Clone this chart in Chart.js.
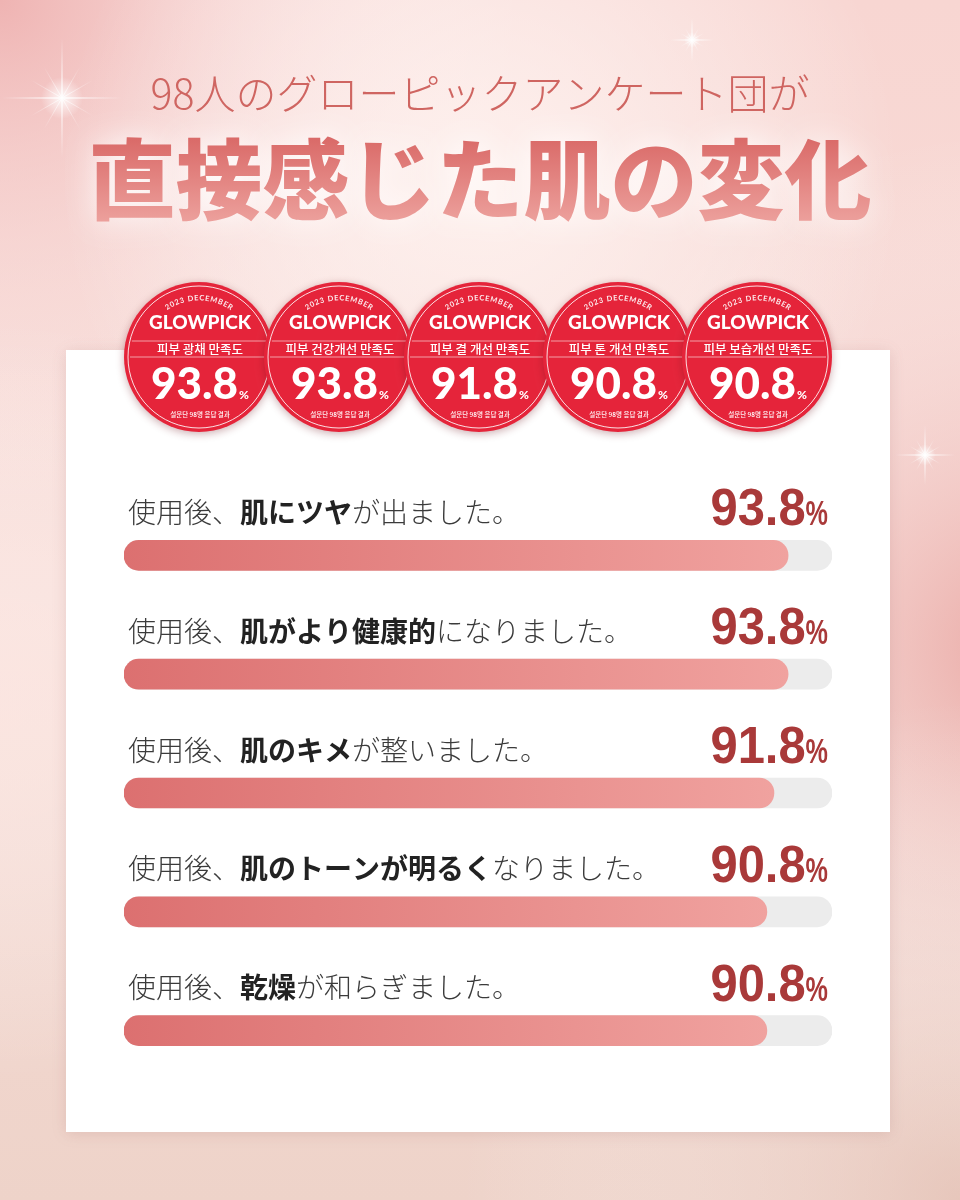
<!DOCTYPE html>
<html>
<head>
<meta charset="utf-8">
<script src="https://cdn.jsdelivr.net/npm/chart.js@4.4.0/dist/chart.umd.min.js"></script>
<style>
  html, body { margin: 0; padding: 0; background: #f6d8d3; }
  canvas { display: block; }
</style>
</head>
<body>
<canvas id="surveyChart" width="960" height="1200"></canvas>
<script>
const subtitle = "98人のグローピックアンケート団が";
const title = "直接感じた肌の変化";

const categories = [
  "使用後、肌にツヤが出ました。",
  "使用後、肌がより健康的になりました。",
  "使用後、肌のキメが整いました。",
  "使用後、肌のトーンが明るくなりました。",
  "使用後、乾燥が和らぎました。"
];
const boldParts = ["肌にツヤ", "肌がより健康的", "肌のキメ", "肌のトーンが明るく", "乾燥"];
const percentValues = [93.8, 93.8, 91.8, 90.8, 90.8];
const trackValues = [100, 100, 100, 100, 100];

const badgeTitles = ["피부 광채 만족도", "피부 건강개선 만족도", "피부 결 개선 만족도", "피부 톤 개선 만족도", "피부 보습개선 만족도"];
const badgeValues = [93.8, 93.8, 91.8, 90.8, 90.8];

const jp = "'Noto Sans CJK JP', 'Noto Sans', sans-serif";
const kr = "'Noto Sans CJK KR', 'Noto Sans', sans-serif";

function drawBackground(ctx, w, h) {
  let g = ctx.createLinearGradient(0, 0, 0, h);
  g.addColorStop(0, "#f8d6d2");
  g.addColorStop(0.5, "#f7dcd7");
  g.addColorStop(1, "#eed3c9");
  ctx.fillStyle = g;
  ctx.fillRect(0, 0, w, h);

  const blobs = [
    [0, 0, 520, "rgba(236,168,168,0.75)"],
    [1020, 650, 520, "rgba(232,160,156,0.85)"],
    [960, 1200, 500, "rgba(226,190,178,0.6)"],
    [0, 700, 380, "rgba(255,236,232,0.6)"],
    [480, 180, 420, "rgba(255,244,241,0.85)"]
  ];
  blobs.forEach(([x, y, r, c]) => {
    const rg = ctx.createRadialGradient(x, y, 0, x, y, r);
    rg.addColorStop(0, c);
    rg.addColorStop(1, "rgba(255,255,255,0)");
    ctx.fillStyle = rg;
    ctx.fillRect(0, 0, w, h);
  });
}

function drawSparkle(ctx, x, y, size) {
  ctx.save();
  const glow = ctx.createRadialGradient(x, y, 0, x, y, size * 0.35);
  glow.addColorStop(0, "rgba(255,255,255,0.9)");
  glow.addColorStop(1, "rgba(255,255,255,0)");
  ctx.fillStyle = glow;
  ctx.beginPath();
  ctx.arc(x, y, size * 0.35, 0, Math.PI * 2);
  ctx.fill();
  const rays = 12;
  for (let i = 0; i < rays; i++) {
    const a = (Math.PI * 2 * i) / rays;
    const len = (i % 3 === 0) ? size : size * 0.6;
    const ex = x + Math.cos(a) * len, ey = y + Math.sin(a) * len;
    const lg = ctx.createLinearGradient(x, y, ex, ey);
    lg.addColorStop(0, "rgba(255,255,255,0.95)");
    lg.addColorStop(1, "rgba(255,255,255,0)");
    ctx.strokeStyle = lg;
    ctx.lineWidth = i % 3 === 0 ? 1.4 : 0.8;
    ctx.beginPath();
    ctx.moveTo(x, y);
    ctx.lineTo(ex, ey);
    ctx.stroke();
  }
  ctx.restore();
}

function drawTitles(ctx) {
  ctx.save();
  ctx.textAlign = "center";
  ctx.textBaseline = "middle";
  ctx.fillStyle = "#cf6561";
  ctx.font = "300 41px " + jp;
  ctx.fillText(subtitle, 480, 93);

  ctx.font = "900 87px " + jp;
  ctx.shadowColor = "rgba(255,255,255,0.95)";
  ctx.shadowBlur = 30;
  const tg = ctx.createLinearGradient(0, 135, 0, 225);
  tg.addColorStop(0, "#d96866");
  tg.addColorStop(1, "#eda29e");
  ctx.fillStyle = tg;
  ctx.fillText(title, 480, 180);
  ctx.restore();
}

function drawCard(ctx) {
  ctx.save();
  ctx.shadowColor = "rgba(150,90,90,0.18)";
  ctx.shadowBlur = 14;
  ctx.shadowOffsetY = 2;
  ctx.fillStyle = "#ffffff";
  ctx.fillRect(66, 350, 824, 782);
  ctx.restore();
}

function drawBadge(ctx, cx, cy, r, label, value) {
  ctx.save();
  ctx.shadowColor = "rgba(110,20,30,0.35)";
  ctx.shadowBlur = 8;
  ctx.shadowOffsetY = 2;
  ctx.fillStyle = "#e5243a";
  ctx.beginPath();
  ctx.arc(cx, cy, r, 0, Math.PI * 2);
  ctx.fill();
  ctx.restore();

  ctx.save();
  ctx.strokeStyle = "rgba(255,255,255,0.85)";
  ctx.lineWidth = 1;
  ctx.beginPath();
  ctx.arc(cx, cy, r - 4, 0, Math.PI * 2);
  ctx.stroke();

  // curved top text
  ctx.fillStyle = "rgba(255,255,255,0.9)";
  ctx.font = "700 7.5px Lato, sans-serif";
  ctx.textAlign = "center";
  ctx.textBaseline = "middle";
  const arcText = "2023 DECEMBER";
  const rad = r - 16;
  const spacing = 0.9;
  const widths = [...arcText].map(ch => ctx.measureText(ch).width + spacing);
  const total = widths.reduce((a, b) => a + b, 0);
  let acc = 0;
  const start = -Math.PI / 2 - total / rad / 2;
  [...arcText].forEach((ch, i) => {
    const a = start + (acc + widths[i] / 2) / rad;
    acc += widths[i];
    ctx.save();
    ctx.translate(cx + Math.cos(a) * rad, cy + Math.sin(a) * rad);
    ctx.rotate(a + Math.PI / 2);
    ctx.fillText(ch, 0, 0);
    ctx.restore();
  });

  ctx.fillStyle = "#ffffff";
  ctx.font = "900 19px Lato, sans-serif";
  ctx.fillText("GLOWPICK", cx + 1, cy - 34);

  ctx.strokeStyle = "rgba(255,255,255,0.7)";
  ctx.lineWidth = 0.8;
  [-16, 0].forEach(dy => {
    const half = Math.sqrt((r - 6) * (r - 6) - dy * dy);
    ctx.beginPath();
    ctx.moveTo(cx - half, cy + dy);
    ctx.lineTo(cx + half, cy + dy);
    ctx.stroke();
  });

  ctx.font = "500 12.5px " + kr;
  ctx.fillText(label, cx + 1, cy - 8);

  const num = value.toFixed(1);
  ctx.font = "900 44px Lato, sans-serif";
  const nw = ctx.measureText(num).width;
  ctx.font = "900 12px Lato, sans-serif";
  const pw = ctx.measureText("%").width;
  const left = cx + 1 - (nw + pw + 1) / 2;
  ctx.textAlign = "left";
  ctx.textBaseline = "alphabetic";
  ctx.font = "900 44px Lato, sans-serif";
  ctx.fillText(num, left, cy + 42);
  ctx.font = "900 12px Lato, sans-serif";
  ctx.fillText("%", left + nw + 1, cy + 42);

  ctx.textAlign = "center";
  ctx.textBaseline = "middle";
  ctx.font = "500 6.5px " + kr;
  ctx.fillText("설문단 98명 응답 결과", cx + 1, cy + 58);
  ctx.restore();
}

// text squeezed horizontally, right edge at x
function squeezedRight(ctx, txt, x, y, sx) {
  ctx.save();
  ctx.translate(x, y);
  ctx.scale(sx, 1);
  ctx.textAlign = "right";
  ctx.fillText(txt, 0, 0);
  const w = ctx.measureText(txt).width * sx;
  ctx.restore();
  return w;
}

const decorPlugin = {
  id: "decor",
  beforeDraw(chart) {
    const ctx = chart.ctx;
    ctx.save();
    drawBackground(ctx, chart.width, chart.height);
    drawSparkle(ctx, 62, 98, 60);
    drawSparkle(ctx, 692, 40, 22);
    drawSparkle(ctx, 925, 455, 30);
    drawTitles(ctx);
    drawCard(ctx);
    const centers = [199, 339, 479, 618, 757];
    badgeTitles.forEach((t, i) => drawBadge(ctx, centers[i], 357, 75, t, badgeValues[i]));
    ctx.restore();
  },
  afterDatasetsDraw(chart) {
    const ctx = chart.ctx;
    const meta = chart.getDatasetMeta(0);
    const right = chart.chartArea.right - 4;
    ctx.save();
    meta.data.forEach((bar, i) => {
      const cat = categories[i];
      const bold = boldParts[i];
      const idx = cat.indexOf(bold);
      const parts = [
        [cat.slice(0, idx), "300 28px " + jp, "#3b3b3b"],
        [bold, "700 28px " + jp, "#222222"],
        [cat.slice(idx + bold.length), "300 28px " + jp, "#3b3b3b"]
      ];
      let x = 128;
      ctx.textBaseline = "middle";
      ctx.textAlign = "left";
      parts.forEach(([txt, font, color]) => {
        ctx.font = font;
        ctx.fillStyle = color;
        ctx.fillText(txt, x, bar.y - 43);
        x += ctx.measureText(txt).width;
      });

      // percentage
      ctx.textBaseline = "alphabetic";
      ctx.fillStyle = "#a93939";
      ctx.font = "700 35px 'Liberation Sans', sans-serif";
      const pw = squeezedRight(ctx, "%", right, bar.y - 30, 0.72);
      ctx.font = "700 52px 'Liberation Sans', sans-serif";
      squeezedRight(ctx, percentValues[i].toFixed(1), right - pw, bar.y - 30, 0.94);
    });
    ctx.restore();
  }
};

function barGradient(c) {
  const chart = c.chart;
  const area = chart.chartArea;
  if (!area || c.type !== "data") return "#e58585";
  const end = chart.scales.x.getPixelForValue(c.raw);
  const g = chart.ctx.createLinearGradient(area.left, 0, end, 0);
  g.addColorStop(0, "#dc7070");
  g.addColorStop(1, "#f0a29f");
  return g;
}

new Chart(document.getElementById("surveyChart").getContext("2d"), {
  type: "bar",
  data: {
    labels: categories,
    datasets: [
      {
        label: "満足度",
        data: percentValues,
        backgroundColor: barGradient,
        borderRadius: 15,
        borderSkipped: false,
        barThickness: 30,
        grouped: false,
        order: 1
      },
      {
        label: "track",
        data: trackValues,
        backgroundColor: "#ececec",
        borderRadius: 15,
        borderSkipped: false,
        barThickness: 30,
        grouped: false,
        order: 2
      }
    ]
  },
  options: {
    indexAxis: "y",
    responsive: false,
    animation: false,
    devicePixelRatio: 1,
    layout: { padding: { left: 124, right: 128, top: 496, bottom: 110 } },
    plugins: {
      legend: { display: false },
      tooltip: { enabled: false }
    },
    scales: {
      x: { display: false, min: 0, max: 100 },
      y: { display: false }
    }
  },
  plugins: [decorPlugin]
});
</script>
</body>
</html>
